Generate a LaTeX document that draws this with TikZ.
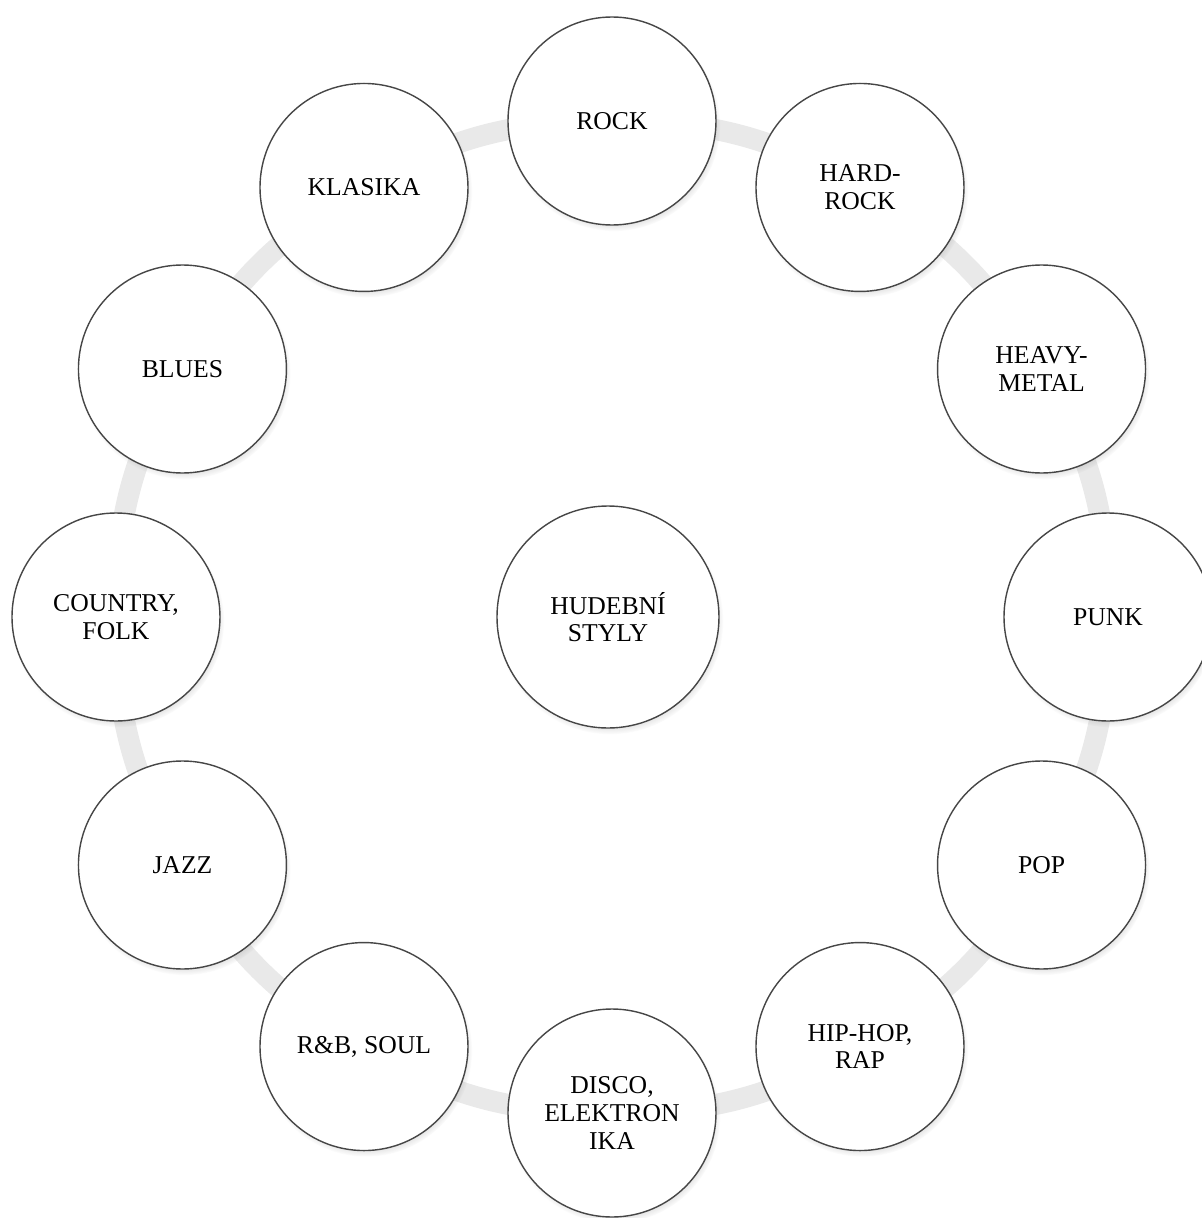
\documentclass[tikz,border=0pt]{standalone}
\usepackage{fontspec}
\setmainfont{Liberation Serif}
\usepackage{xcolor}
\usepackage{tikz}
\usetikzlibrary{
  positioning,
  calc,
  shadows,
  backgrounds,
}

\begin{document}
\begin{tikzpicture}[
  font=\fontsize{7.3}{7.9}\selectfont,
  every node/.style={align=center},
  genre/.style={circle, draw=gray!55!black, line width=0.4pt, fill=white,
    inner sep=0pt, minimum size=2.08cm,
    circular drop shadow={shadow xshift=0.02cm, shadow yshift=-0.04cm,
      shadow scale=1.02, opacity=0.45}},
  hub/.style={genre, minimum size=2.22cm},
  band/.style={line width=0.21cm, gray!17},
]

\useasboundingbox (-6.12,6.17) rectangle (5.90,-6.01);

\node[hub] (styly) at (-0.04,0) {HUDEBNÍ\\STYLY};

\foreach \ang/\name/\txt in {
  90/rock/ROCK,
  60/hardrock/{HARD-\\ROCK},
  30/metal/{HEAVY-\\METAL},
  0/punk/PUNK,
  -30/pop/POP,
  -60/hiphop/{HIP-HOP,\\RAP},
  -90/disco/{DISCO,\\ELEKTRON\\IKA},
  -120/soul/{R\&B, SOUL},
  -150/jazz/JAZZ,
  180/country/{COUNTRY,\\FOLK},
  150/blues/BLUES,
  120/klasika/KLASIKA}
  \node[genre] (\name) at (\ang:4.96) {\txt};

\begin{scope}[on background layer]
\foreach \a/\b in {rock/hardrock, hardrock/metal, metal/punk, punk/pop,
  pop/hiphop, hiphop/disco, disco/soul, soul/jazz, jazz/country,
  country/blues, blues/klasika, klasika/rock}
  \draw[band] (\a.center) to[bend left=15] (\b.center);
\end{scope}

\end{tikzpicture}
\end{document}
